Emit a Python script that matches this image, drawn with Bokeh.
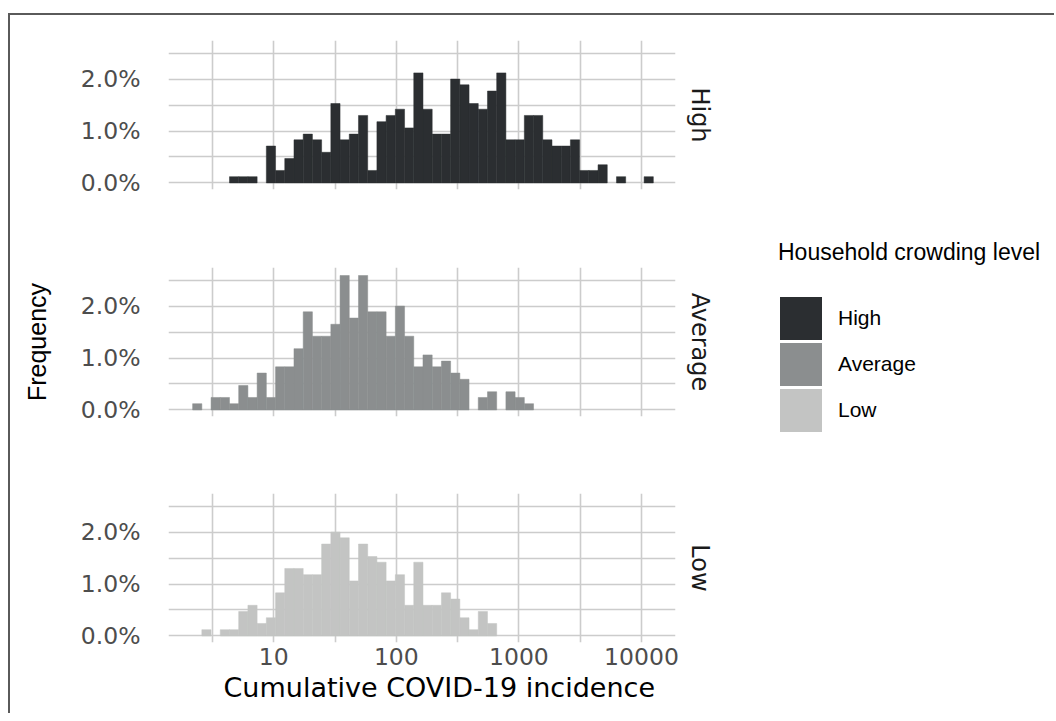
import numpy as np
from bokeh.plotting import figure
from bokeh.models import (Range1d, FixedTicker, NumeralTickFormatter, Title, Legend,
                          LegendItem, ColumnDataSource, Spacer)
from bokeh.layouts import column, row
from bokeh.embed import file_html
from bokeh.resources import INLINE

# ---------------- data ----------------
levels = ["High", "Average", "Low"]
colors = ["#2B2E31", "#8B8E8F", "#C3C4C3"]

# frequency (% of all areas) per histogram bin, 50 log-spaced bins
high_pct = [0, 0, 0, 0, 0.12, 0.12, 0.12, 0, 0.71, 0.24,
            0.47, 0.83, 0.94, 0.83, 0.59, 1.53, 0.83, 0.94, 1.30, 0.24,
            1.18, 1.30, 1.42, 1.06, 2.12, 1.42, 0.94, 0.94, 2.00, 1.89,
            1.53, 1.42, 1.77, 2.12, 0.83, 0.83, 1.30, 1.30, 0.83, 0.71,
            0.71, 0.83, 0.24, 0.24, 0.35, 0, 0.12, 0, 0, 0.12]
average_pct = [0.12, 0, 0.24, 0.24, 0.12, 0.47, 0.24, 0.71, 0.24, 0.83,
               0.83, 1.18, 1.89, 1.42, 1.42, 1.65, 2.59, 1.77, 2.59, 1.89,
               1.89, 1.42, 2.00, 1.42, 0.83, 1.06, 0.83, 0.94, 0.71, 0.59,
               0, 0.24, 0.35, 0, 0.35, 0.24, 0.12, 0, 0, 0,
               0, 0, 0, 0, 0, 0, 0, 0, 0, 0]
low_pct = [0, 0.12, 0, 0.12, 0.12, 0.47, 0.59, 0.24, 0.35, 0.83,
           1.30, 1.30, 1.18, 1.18, 1.77, 2.00, 1.89, 1.06, 1.77, 1.53,
           1.42, 1.06, 1.18, 0.59, 1.42, 0.59, 0.59, 0.83, 0.71, 0.35,
           0.12, 0.47, 0.24, 0, 0, 0, 0, 0, 0, 0,
           0, 0, 0, 0, 0, 0, 0, 0, 0, 0]
series = [high_pct, average_pct, low_pct]

# histogram binning (log10 of cumulative incidence)
bin_lo_log, bin_hi_log, n_bins = 0.3377, 4.0967, 50

x_ticks = [10, 100, 1000, 10000]
x_minor = [3.162, 31.62, 316.2, 3162]
y_ticks = [0.0, 0.01, 0.02]
y_minor = [0.005, 0.015, 0.025]

x_title = "Cumulative COVID-19 incidence"
y_title = "Frequency"
legend_title = "Household crowding level"

# ---------------- layout constants ----------------
WP = 730                  # width of each facet figure
WL = 310                  # width of the legend figure
FL, FW, FH = 158, 507, 149
GRID = "#CCCCCC"
TICK_FONT = "DejaVu Sans"
SANS = "Liberation Sans"
H1, H2, H3 = 213, 226, 259

edges = 10 ** np.linspace(bin_lo_log, bin_hi_log, n_bins + 1)


def make_panel(level, color, pct, top, bottom, show_x):
    p = figure(width=WP, height=top + FH + bottom, x_axis_type="log",
               x_range=Range1d(1.383, 18950), y_range=Range1d(-0.00127, 0.02744),
               output_backend="svg", toolbar_location=None,
               min_border_left=FL, min_border_right=WP - FL - FW,
               min_border_top=top, min_border_bottom=bottom)
    p.outline_line_color = None
    p.background_fill_color = "white"
    p.border_fill_color = "white"

    idx = [i for i, v in enumerate(pct) if v > 0]
    src = ColumnDataSource(dict(left=[edges[i] for i in idx],
                                right=[edges[i + 1] for i in idx],
                                top=[pct[i] / 100.0 for i in idx]))
    r = p.quad(left="left", right="right", top="top", bottom=0, source=src,
               fill_color=color, line_color=color, line_width=0.5)

    # axes
    p.xaxis.ticker = FixedTicker(ticks=x_ticks, minor_ticks=x_minor)
    p.xaxis.formatter = NumeralTickFormatter(format="0")
    p.yaxis.ticker = FixedTicker(ticks=y_ticks, minor_ticks=y_minor)
    p.yaxis.formatter = NumeralTickFormatter(format="0.0%")
    for ax in (p.xaxis[0], p.yaxis[0]):
        ax.axis_line_color = None
        ax.major_tick_out = 0
        ax.major_tick_in = 0
        ax.minor_tick_out = 0
        ax.minor_tick_in = 0
        ax.major_label_text_font = TICK_FONT
        ax.major_label_text_font_size = "23.5px"
        ax.major_label_text_color = "#4D4D4D"
    p.yaxis.major_label_standoff = 28
    p.xaxis.major_label_standoff = 5
    p.xaxis.visible = show_x

    for g in (p.xgrid[0], p.ygrid[0]):
        g.grid_line_color = GRID
        g.grid_line_width = 1.6
        g.minor_grid_line_color = GRID
        g.minor_grid_line_width = 1.6

    strip = Title(text=level, align="center", text_font=TICK_FONT,
                  text_font_size="24px", text_font_style="normal",
                  text_color="#1A1A1A", standoff=21)
    p.add_layout(strip, "right")
    return p, r


p1, r1 = make_panel(levels[0], colors[0], series[0], 25, 39, False)
p2, r2 = make_panel(levels[1], colors[1], series[1], 39, 38, False)
p3, r3 = make_panel(levels[2], colors[2], series[2], 39, 71, True)

# y axis title on the middle panel
p2.yaxis.axis_label = y_title
p2.yaxis.axis_label_text_font = SANS
p2.yaxis.axis_label_text_font_size = "25px"
p2.yaxis.axis_label_text_font_style = "normal"
p2.yaxis.axis_label_text_color = "black"
p2.yaxis.axis_label_standoff = 27

# x axis title below the bottom panel
xt = Title(text=x_title, align="left", offset=55, text_font=TICK_FONT,
           text_font_size="27px", text_font_style="normal", text_color="black",
           standoff=5)
p3.add_layout(xt, "below")

# legend figure to the right of the facets
lf = figure(width=WL, height=H1 + H2 + H3, x_range=Range1d(1, 2),
            y_range=Range1d(1, 2), output_backend="svg", toolbar_location=None,
            x_axis_location=None, y_axis_location=None,
            min_border_left=0, min_border_right=0, min_border_top=0,
            min_border_bottom=0)
lf.outline_line_color = None
for g in lf.grid:
    g.visible = False

# zero-area legend proxies (outside the visible range), one per level; a thick
# outline of the same colour makes each key fill its box like ggplot's keys
items = []
for lvl, col in zip(levels, colors):
    rend = lf.quad(left=[0], right=[0], top=[0], bottom=[0], fill_color=col,
                   line_color=col, line_width=6, line_join="miter")
    items.append(LegendItem(label=lvl, renderers=[rend]))
legend = Legend(items=items, location=(38, 280), title=legend_title,
                title_text_font=SANS, title_text_font_size="23px",
                title_text_font_style="normal", title_text_color="black",
                title_standoff=29,
                label_text_font=SANS, label_text_font_size="21px",
                label_text_color="black", label_standoff=15,
                glyph_width=45, glyph_height=46, spacing=0, padding=0, margin=0,
                border_line_color=None, background_fill_alpha=0)
lf.add_layout(legend)

# thin frame lines as in the reference screenshot
frame_col = "#5A5A5A"
left_line = Spacer(width=2, height=2 + H1 + H2 + H3,
                   styles={"background-color": frame_col})
top_line = Spacer(width=WP + WL + 4, height=2,
                  styles={"background-color": frame_col})

layout = column(
    Spacer(width=8 + 2 + WP + WL + 4, height=13),
    row(Spacer(width=8, height=10),
        left_line,
        column(top_line, row(column(p1, p2, p3), lf))))

open("out.html", "w").write(file_html(layout, INLINE))
